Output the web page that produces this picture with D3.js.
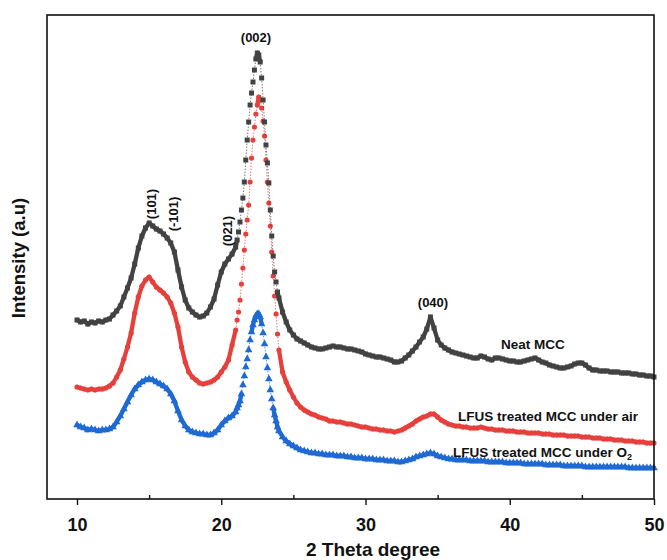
<!DOCTYPE html>
<html><head><meta charset="utf-8">
<script src="https://cdn.jsdelivr.net/npm/d3@7/dist/d3.min.js"></script>
<style>
html,body{margin:0;padding:0;background:#fff;}
svg text{font-family:Arial,"Liberation Sans",sans-serif;font-weight:bold;fill:#111;}
</style></head>
<body><svg id="c" width="667" height="560"></svg>
<script>
// 2-theta grid (degrees)
const twoTheta = [
10,10.25,10.5,10.75,11,11.25,11.5,11.75,12,12.25,12.5,12.75,13,13.25,13.5,13.75,14,14.25,14.5,14.75,
15,15.25,15.5,15.75,16,16.25,16.5,16.75,17,17.25,17.5,17.75,18,18.25,18.5,18.75,19,19.25,19.5,19.75,
20,20.25,20.5,20.75,
21,21.1,21.2,21.3,21.4,21.5,21.6,21.7,21.8,21.9,22,22.1,22.2,22.3,22.4,22.5,22.6,22.7,22.8,22.9,
23,23.1,23.2,23.3,23.4,23.5,23.6,23.7,23.8,23.9,24,
24.25,24.5,24.75,25,25.25,25.5,25.75,26,26.25,26.5,26.75,27,27.25,27.5,27.75,28,28.25,28.5,28.75,29,
29.25,29.5,29.75,30,30.25,30.5,30.75,31,31.25,31.5,31.75,32,32.25,32.5,32.75,33,33.25,33.5,33.75,34,
34.25,34.5,34.75,35,35.25,35.5,35.75,36,36.25,36.5,36.75,37,37.25,37.5,37.75,38,38.25,38.5,38.75,39,
39.25,39.5,39.75,40,40.25,40.5,40.75,41,41.25,41.5,41.75,42,42.25,42.5,42.75,43,43.25,43.5,43.75,44,
44.25,44.5,44.75,45,45.25,45.5,45.75,46,46.25,46.5,46.75,47,47.25,47.5,47.75,48,48.25,48.5,48.75,49,
49.25,49.5,49.75,50];

const neatMCC = [
180,178,179,176,178,177,179,178,180,181,185,189,194,203,212,222,236,252,264,272,
277,274,271,269,266,262,257,248,230,213,200,192,188,185,183,184,187,193,201,215,
228,236,241,246,
253,260,268,278,290,302,318,340,360,378,395,407,418,430,441,447,445,438,422,400,
378,355,337,317,290,264,244,228,218,208,202,
188,178,170,165,161,159,157,155,153,152,151,151,152,153,154,153,153,152,151,151,
150,149,148,146,145,144,143,143,142,141,140,138,138,139,142,145,149,153,158,163,
171,183,172,160,155,152,150,148,147,146,145,144,143,142,142,144,143,141,140,142,
142,141,140,139,139,138,138,139,140,141,142,140,138,137,135,134,133,132,132,133,
134,136,137,137,135,132,130,130,129,129,129,128,128,128,127,127,127,126,126,125,
125,124,124,123];

const lfusAir = [
113,112,111,110,111,110,111,111,112,114,117,123,130,141,153,167,187,203,214,220,
223,218,213,210,207,203,197,187,173,153,138,128,123,120,117,116,117,118,120,123,
128,133,140,155,
170,180,188,200,216,232,250,266,280,295,318,342,360,373,386,395,403,400,392,379,
364,340,318,297,274,248,224,204,186,166,150,
128,118,110,103,97,93,90,88,86,85,83,82,81,79,79,78,78,77,76,76,
75,74,73,73,72,71,71,70,70,69,69,68,69,70,72,74,76,79,81,83,
84,86,86,83,80,78,76,75,74,74,73,73,72,72,72,73,72,71,71,70,
70,70,69,69,69,68,68,68,67,67,67,67,66,66,66,65,65,65,65,64,
64,64,64,63,63,63,62,62,62,61,61,61,60,60,60,59,59,59,58,58,
58,57,57,57];

const lfusO2 = [
75,73,72,70,71,70,69,70,70,71,73,78,84,91,98,105,111,115,118,120,
121,120,118,116,114,111,106,99,89,80,74,70,68,67,66,66,65,65,67,70,
75,79,82,84,
88,92,95,99,106,115,124,133,141,150,160,168,175,180,184,186,186,183,176,167,
156,143,132,121,110,101,92,85,79,73,69,
63,59,56,54,52,50,49,48,47,47,46,46,45,45,45,44,44,44,43,43,
42,42,42,41,41,41,40,40,40,39,39,39,38,38,39,40,41,43,44,45,
46,47,46,44,43,42,41,41,40,40,40,40,39,39,39,39,39,38,38,38,
38,38,37,37,37,37,37,36,36,36,36,36,36,35,35,35,35,35,34,34,
34,34,34,34,33,33,33,33,33,33,33,33,33,33,33,33,32,32,32,32,
32,32,32,32];

const seriesNames = ["Neat MCC","LFUS treated MCC under air","LFUS treated MCC under O"];
const seriesColors = ["#424242","#e6403d","#1f6ad2"];
const majorTicks = [10,20,30,40,50];
const minorTicks = [15,25,35,45];
const peakLabels = ["(002)","(101)","(-101)","(021)","(040)"];

const svg = d3.select("#c");
const L=47, R=654, T=15, B=499;
const x = d3.scaleLinear().domain([7.92,50]).range([L,R]);
const y = d3.scaleLinear().domain([0,486]).range([500,14]);

const series = [neatMCC, lfusAir, lfusO2].map((vals,i)=>({
  name: seriesNames[i], color: seriesColors[i],
  pts: twoTheta.map((t,j)=>[t, vals[j]])
}));

const sym = [d3.symbolSquare, d3.symbolCircle, d3.symbolTriangle];
const symSize = [25, 21, 25];

// draw bottom-most first
[2,1,0].forEach(i=>{
  const s = series[i];
  const g = svg.append("g");
  const segs = d3.pairs(s.pts);
  g.selectAll("line").data(segs).join("line")
    .attr("x1",d=>x(d[0][0])).attr("y1",d=>y(d[0][1]))
    .attr("x2",d=>x(d[1][0])).attr("y2",d=>y(d[1][1]))
    .each(function(d){
      const dyPx = Math.abs(y(d[1][1])-y(d[0][1]));
      const coarse = (d[1][0]-d[0][0]) > 0.2;
      const dense = coarse || dyPx < 8;
      d3.select(this)
        .attr("stroke", s.color)
        .attr("stroke-width", dense ? 4.3 : 1)
        .attr("stroke-linecap", dense ? "round" : "butt")
        .attr("stroke-dasharray", dense ? null : "1.5,1.5")
        .attr("opacity", dense ? 1 : 0.7);
    });
  g.append("g").selectAll("path").data(s.pts).join("path")
    .attr("d", d3.symbol().type(sym[i]).size(symSize[i]))
    .attr("transform", d=>`translate(${x(d[0])},${y(d[1])})`)
    .attr("fill", s.color);
});

// frame
svg.append("rect").attr("x",L).attr("y",T).attr("width",R-L).attr("height",B-T)
  .attr("fill","none").attr("stroke","#111").attr("stroke-width",1.6);

// axes
const ax = svg.append("g").attr("transform",`translate(0,${B})`)
  .call(d3.axisBottom(x).tickValues(majorTicks).tickSize(6).tickPadding(13).tickFormat(d3.format("d")));
ax.select(".domain").remove();
ax.selectAll("line").attr("stroke","#111").attr("stroke-width",1.4);
ax.selectAll("text").attr("font-size",18).attr("fill","#111").style("font-weight","bold");

const axm = svg.append("g").attr("transform",`translate(0,${B})`)
  .call(d3.axisBottom(x).tickValues(minorTicks).tickSize(-4).tickFormat(""));
axm.select(".domain").remove();
axm.selectAll("line").attr("stroke","#111").attr("stroke-width",1.4);

// axis titles
svg.append("text").attr("x",373).attr("y",556).attr("text-anchor","middle")
  .attr("font-size",19).text("2 Theta degree");
svg.append("text").attr("transform","translate(25,258) rotate(-90)").attr("text-anchor","middle")
  .attr("font-size",18.5).text("Intensity (a.u)");

// peak labels
svg.append("text").attr("x",256).attr("y",42).attr("text-anchor","middle").attr("font-size",13).text(peakLabels[0]);
svg.append("text").attr("x",433).attr("y",307).attr("text-anchor","middle").attr("font-size",13).text(peakLabels[4]);
[[1,156,204],[2,178,214],[3,232,231]].forEach(([k,cx,cy])=>{
  svg.append("text").attr("transform",`translate(${cx},${cy}) rotate(-90)`)
    .attr("text-anchor","middle").attr("font-size",13).text(peakLabels[k]);
});

// series labels
svg.append("text").attr("x",533).attr("y",349).attr("text-anchor","middle").attr("font-size",13.5).text(seriesNames[0]);
svg.append("text").attr("x",548).attr("y",421).attr("text-anchor","middle").attr("font-size",13.5).text(seriesNames[1]);
const t3 = svg.append("text").attr("x",453).attr("y",457).attr("font-size",13.5).text(seriesNames[2]);
t3.append("tspan").attr("font-size",9).attr("dy",3).text("2");
</script></body></html>
